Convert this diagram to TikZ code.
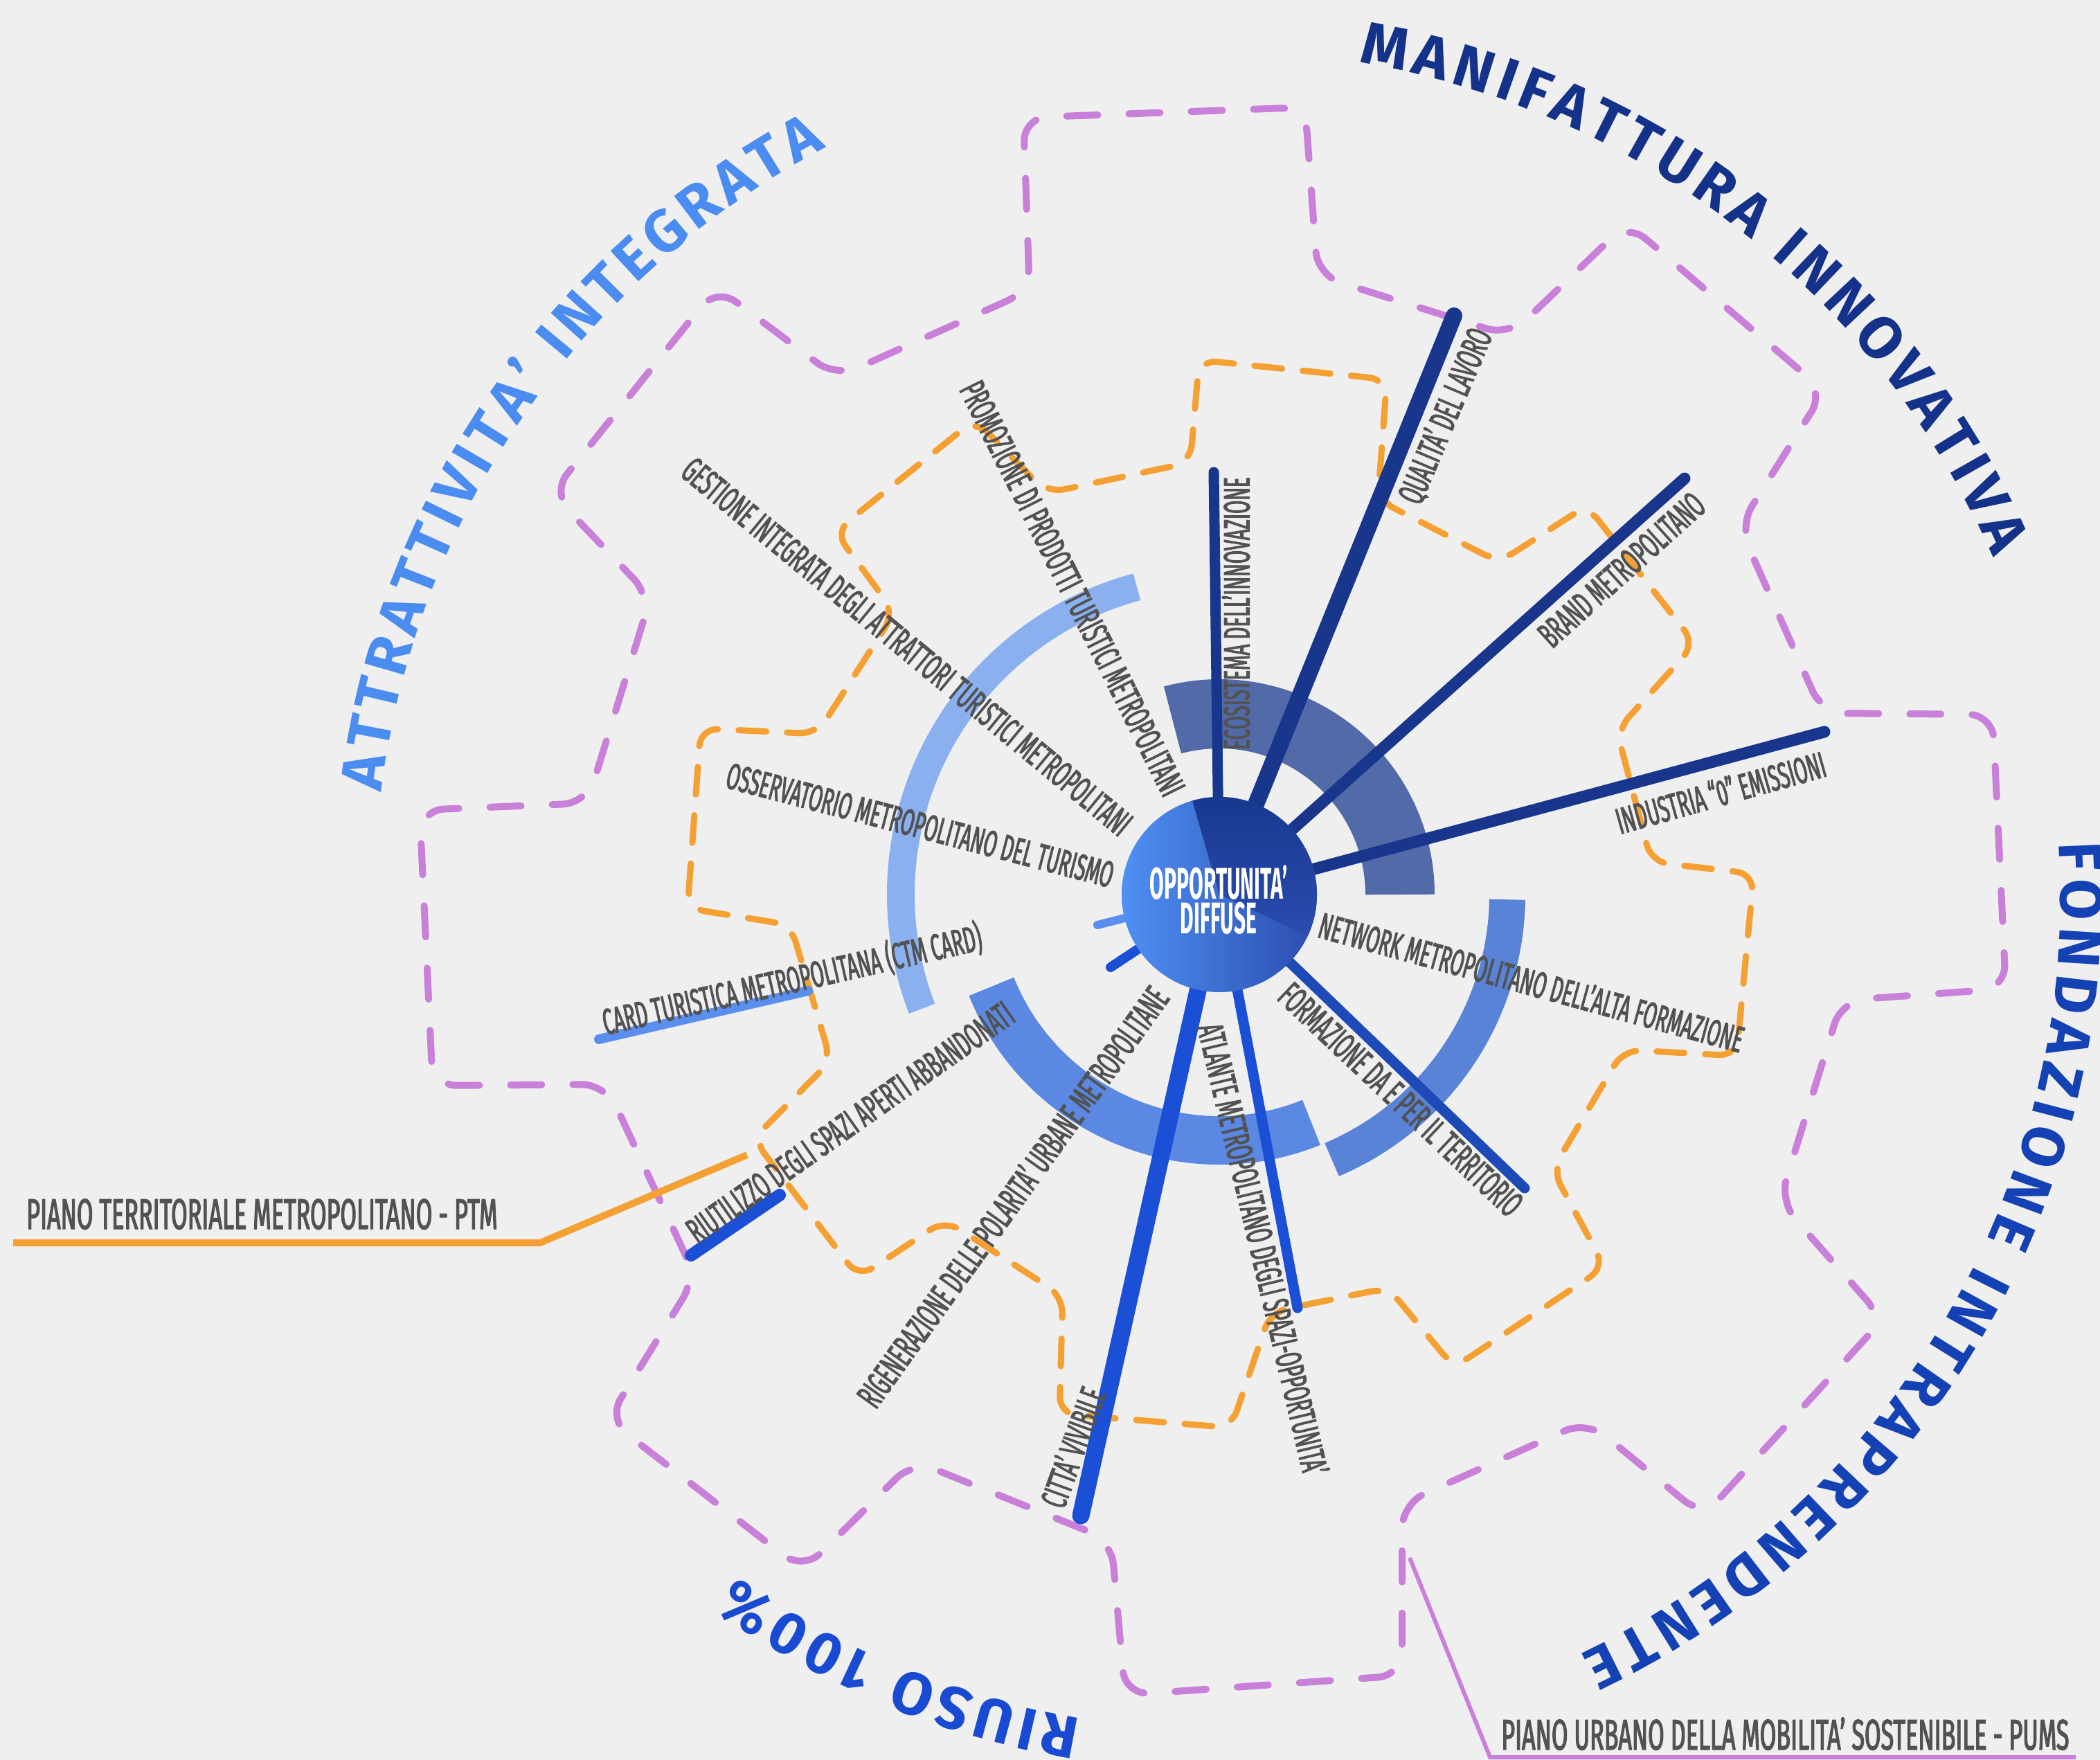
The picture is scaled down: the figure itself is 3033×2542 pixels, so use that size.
\documentclass[tikz,border=0pt]{standalone}
\usepackage{fontspec}
\usetikzlibrary{decorations.text}
\newfontfamily\lblfont{Fira Sans}[FakeStretch=0.52, FakeBold=2]
\newfontfamily\leadfont{Fira Sans}[FakeStretch=0.55, FakeBold=2]
\newfontfamily\hubfont{Fira Sans}[FakeStretch=0.47]
\newfontfamily\headfont{Fira Sans}

\definecolor{bgc}{HTML}{EFEFEF}
\definecolor{lblgray}{HTML}{525252}
\definecolor{navy}{HTML}{17368C}
\definecolor{formblue}{HTML}{1E4AB8}
\definecolor{vivblue}{HTML}{1B50D6}
\definecolor{cardblue}{HTML}{5A8FF0}
\definecolor{ringlight}{HTML}{8AB0F0}
\definecolor{ringslate}{HTML}{526BA8}
\definecolor{ringright}{HTML}{5883D6}
\definecolor{ringbottom}{HTML}{5A88E2}
\definecolor{gearorange}{HTML}{F5A032}
\definecolor{gearpurple}{HTML}{C880D8}
\definecolor{hubleft}{HTML}{5090F4}
\definecolor{hubright}{HTML}{2A4CAE}
\definecolor{hdlight}{HTML}{4B8CF0}
\definecolor{hdnavy}{HTML}{14328A}
\definecolor{hdblue}{HTML}{1441B4}
\definecolor{hdriuso}{HTML}{194BD2}

\tikzset{
  lbl/.style={font=\lblfont\fontsize{53}{53}\selectfont, text=lblgray, inner sep=0pt},
  leaderlbl/.style={font=\leadfont\fontsize{62}{62}\selectfont, text=lblgray, inner sep=0pt, anchor=base west},
  hubtext/.style={font=\hubfont\bfseries\fontsize{64}{50}\selectfont, text=white, align=center, inner sep=0pt},
  spoke/.style={line width=#1, line cap=round},
  ring/.style={line width=#1},
  orangegear/.style={draw=gearorange, line width=9pt, dash pattern=on 40pt off 30pt, line cap=round, rounded corners=25pt},
  purplegear/.style={draw=gearpurple, line width=10pt, dash pattern=on 45pt off 45pt, line cap=round, rounded corners=35pt},
  heading/.style={decorate, decoration={text along path, text align=fit to path, text color=#1}},
}

\begin{document}
\begin{tikzpicture}[x=1pt,y=1pt]
\fill[bgc] (0,0) rectangle (3033,-2542);
\useasboundingbox (0,0) rectangle (3033,-2542);
\coordinate (c) at (1761,-1292);

% gears
\draw[purplegear] (625,-1568) -- (606,-1170) -- (848,-1160) -- (940,-862) -- (797,-712)
  -- (1035,-415) -- (1208,-545) -- (1487,-420) -- (1478,-170) -- (1885,-155)
  -- (1903,-398) -- (2180,-485) -- (2350,-322) -- (2635,-565) -- (2512,-760)
  -- (2632,-1030) -- (2878,-1032) -- (2897,-1428) -- (2660,-1445) -- (2570,-1735)
  -- (2720,-1905) -- (2460,-2190) -- (2292,-2052) -- (2025,-2172) -- (2025,-2420)
  -- (1625,-2448) -- (1605,-2225) -- (1320,-2110) -- (1160,-2268) -- (878,-2050)
  -- (1005,-1845) -- (875,-1566) -- cycle;
\draw[orangegear] (993,-1312) -- (1012,-1052) -- (1180,-1060) -- (1292,-885) -- (1206,-768)
  -- (1408,-606) -- (1512,-712) -- (1719,-668) -- (1732,-520) -- (2003,-548)
  -- (1990,-722) -- (2165,-812) -- (2292,-730) -- (2448,-930) -- (2335,-1055)
  -- (2385,-1245) -- (2533,-1262) -- (2508,-1525) -- (2345,-1516) -- (2242,-1690)
  -- (2318,-1830) -- (2100,-1975) -- (2005,-1860) -- (1835,-1895) -- (1778,-2062)
  -- (1530,-2042) -- (1535,-1872) -- (1365,-1762) -- (1240,-1845) -- (1088,-1645)
  -- (1200,-1532) -- (1142,-1336) -- cycle;

% leaders
\coordinate (ptmA) at (19,-1795);
\coordinate (ptmB) at (780,-1795);
\coordinate (ptmC) at (1079,-1668);
\draw[gearorange, line width=10pt] (ptmA) -- (ptmB) -- (ptmC);
\node[leaderlbl] (ptmL) at (38,-1775) {PIANO TERRITORIALE METROPOLITANO - PTM};
\coordinate (pumsA) at (2036,-2250);
\coordinate (pumsB) at (2152,-2538);
\coordinate (pumsC) at (2998,-2538);
\draw[gearpurple, line width=6pt] (pumsA) -- (pumsB) -- (pumsC);
\node[leaderlbl] (pumsL) at (2168,-2527) {PIANO URBANO DELLA MOBILITA’ SOSTENIBILE - PUMS};

% rings
\draw[ringlight, ring=40pt] ([shift={(105:460)}]c) arc[start angle=105, end angle=201, radius=460];
\draw[ringslate, ring=100pt] ([shift={(105:261)}]c) arc[start angle=105, end angle=0, radius=261];
\draw[ringright, ring=52pt] ([shift={(-1:416)}]c) arc[start angle=-1, end angle=-67, radius=416];
\draw[ringbottom, ring=70pt] ([shift={(202:355)}]c) arc[start angle=202, end angle=292, radius=355];

% spokes
\coordinate (ecoE) at (1753,-682);
\coordinate (qualE) at (2100,-456);
\coordinate (brandE) at (2433,-691);
\coordinate (indE) at (2635,-1057);
\coordinate (formE) at (2202,-1716);
\coordinate (atlE) at (1874,-1889);
\coordinate (cittaE) at (1561,-2189);
\coordinate (riuA) at (998,-1813);
\coordinate (riuB) at (1126,-1726);
\coordinate (riuS) at (1604,-1397);
\coordinate (riuT) at (1660,-1360);
\coordinate (cardA) at (865,-1501);
\coordinate (cardB) at (1167,-1431);
\coordinate (cardS) at (1585,-1336);
\coordinate (cardT) at (1640,-1322);
\draw[navy, spoke=15pt] (c) -- (ecoE);
\draw[navy, spoke=24pt] (c) -- (qualE);
\draw[navy, spoke=17pt] (c) -- (brandE);
\draw[navy, spoke=17pt] (c) -- (indE);
\draw[formblue, spoke=15pt] (c) -- (formE);
\draw[vivblue, spoke=15pt] (c) -- (atlE);
\draw[vivblue, spoke=25pt] (c) -- (cittaE);
\draw[vivblue, spoke=18pt] (riuA) -- (riuB);
\draw[vivblue, spoke=14pt] (riuS) -- (riuT);
\draw[cardblue, spoke=14pt] (cardA) -- (cardB);
\draw[cardblue, spoke=12pt] (cardS) -- (cardT);

% labels
\node[lbl, rotate=90] (ecoL) at (1785,-886) {ECOSISTEMA DELL’INNOVAZIONE};
\node[lbl, rotate=67] (qualL) at (2088,-601) {QUALITA’ DEL LAVORO};
\node[lbl, rotate=42] (brandL) at (2342,-823) {BRAND METROPOLITANO};
\node[lbl, rotate=15.7] (indL) at (2485,-1144) {INDUSTRIA “0” EMISSIONI};
\node[lbl, rotate=-15.3] (netL) at (2212,-1418) {NETWORK METROPOLITANO DELL’ALTA FORMAZIONE};
\node[lbl, rotate=-43.4] (formL) at (2023,-1588) {FORMAZIONE DA E PER IL TERRITORIO};
\node[lbl, rotate=-76.7] (atlL) at (1825,-1804) {ATLANTE METROPOLITANO DEGLI SPAZI-OPPORTUNITA’};
\node[lbl, rotate=70] (cittaL) at (1549,-2090) {CITTA’ VIVIBILE};
\node[lbl, rotate=54.4] (rigL) at (1462,-1728) {RIGENERAZIONE DELLE POLARITA’ URBANE METROPOLITANE};
\node[lbl, rotate=35.1] (riuL) at (1228,-1621) {RIUTILIZZO DEGLI SPAZI APERTI ABBANDONATI};
\node[lbl, rotate=12.8] (cardL) at (1144,-1415) {CARD TURISTICA METROPOLITANA (CTM CARD)};
\node[lbl, rotate=-14.6] (ossL) at (1329,-1192) {OSSERVATORIO METROPOLITANO DEL TURISMO};
\node[lbl, rotate=-39.5] (gestL) at (1310,-934) {GESTIONE INTEGRATA DEGLI ATTRATTORI TURISTICI METROPOLITANI};
\node[lbl, rotate=-63.4] (promL) at (1549,-850) {PROMOZIONE DI PRODOTTI TURISTICI METROPOLITANI};

% hub
\shade[left color=hubleft, right color=hubright] (c) circle (141);
\shade[top color=navy, bottom color=hubright] (c) -- ([shift={(106:141)}]c) arc[start angle=106, end angle=-25, radius=141] -- cycle;
\node[hubtext] (hub) at (1760,-1300) {OPPORTUNITA’\\DIFFUSE};

% headings
\path[heading=hdlight, decoration={text={|\headfont\bfseries\fontsize{86}{86}\selectfont|ATTRATTIVITA’ INTEGRATA}}]
  ([shift={(173:1219)}]c) arc[start angle=173, end angle=117.8, radius=1219];
\path[heading=hdnavy, decoration={text={|\headfont\bfseries\fontsize{86}{86}\selectfont|MANIFATTURA INNOVATIVA}}]
  ([shift={(80.5:1219)}]c) arc[start angle=80.5, end angle=23.6, radius=1219];
\path[heading=hdblue, decoration={text={|\headfont\bfseries\fontsize{86}{86}\selectfont|FONDAZIONE INTRAPRENDENTE}}]
  ([shift={(3.5:1215)}]c) arc[start angle=3.5, end angle=-64.6, radius=1215];
\path[heading=hdriuso, decoration={text={|\headfont\bfseries\fontsize{86}{86}\selectfont|RIUSO 100{\%}}}]
  ([shift={(-99.5:1207)}]c) arc[start angle=-99.5, end angle=-125.3, radius=1207];
\end{tikzpicture}
\end{document}
